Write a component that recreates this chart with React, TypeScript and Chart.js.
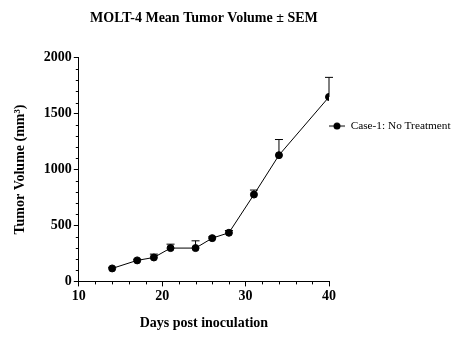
import { useEffect, useRef } from "react";
import { Chart, registerables } from "chart.js";

Chart.register(...registerables);

const days = [14, 17, 19, 21, 24, 26, 28, 31, 34, 40];
const meanVolume = [116, 188, 214, 298, 298, 387, 435, 777, 1129, 1650];
const semVolume = [10, 10, 30, 35, 65, 12, 20, 40, 140, 175];
const seriesLabel = "Case-1: No Treatment";
const chartTitle = "MOLT-4 Mean Tumor Volume ± SEM";
const xTitle = "Days post inoculation";
const yTitle = "Tumor Volume (mm³)";
const xRange = [10, 40];
const yRange = [0, 2000];
const xMajorStep = 10;
const xMinorStep = 2;
const yMajorStep = 500;
const yMinorStep = 100;

const FONT = "'Liberation Serif', 'Times New Roman', serif";

const errorBarsPlugin = {
  id: "errorBars",
  beforeDatasetsDraw(chart: any) {
    const { ctx } = chart;
    const xs = chart.scales.x;
    const ys = chart.scales.y;
    ctx.save();
    ctx.strokeStyle = "#000";
    ctx.lineWidth = 1;
    days.forEach((d, i) => {
      const x = xs.getPixelForValue(d);
      const y0 = ys.getPixelForValue(meanVolume[i]);
      const y1 = ys.getPixelForValue(meanVolume[i] + semVolume[i]);
      ctx.beginPath();
      ctx.moveTo(x, y0);
      ctx.lineTo(x, y1);
      ctx.moveTo(x - 4, y1);
      ctx.lineTo(x + 4, y1);
      ctx.stroke();
    });
    ctx.restore();
  },
};

const minorTicksPlugin = {
  id: "minorTicks",
  afterDraw(chart: any) {
    const { ctx, chartArea } = chart;
    const xs = chart.scales.x;
    const ys = chart.scales.y;
    ctx.save();
    ctx.strokeStyle = "#000";
    ctx.lineWidth = 1;
    ctx.beginPath();
    for (let v = yRange[0] + yMinorStep; v < yRange[1]; v += yMinorStep) {
      if (v % yMajorStep === 0) continue;
      const y = Math.round(ys.getPixelForValue(v)) + 0.5;
      ctx.moveTo(chartArea.left, y);
      ctx.lineTo(chartArea.left - 3, y);
    }
    for (let v = xRange[0] + xMinorStep; v < xRange[1]; v += xMinorStep) {
      if (v % xMajorStep === 0) continue;
      const x = Math.round(xs.getPixelForValue(v)) + 0.5;
      ctx.moveTo(x, chartArea.bottom);
      ctx.lineTo(x, chartArea.bottom + 3);
    }
    ctx.stroke();
    ctx.restore();
  },
};

export default function App() {
  const ref = useRef<HTMLCanvasElement>(null);

  useEffect(() => {
    if (!ref.current) return;
    const marker = document.createElement("canvas");
    marker.width = 16;
    marker.height = 8;
    const mctx = marker.getContext("2d")!;
    mctx.strokeStyle = "#000";
    mctx.lineWidth = 1;
    mctx.beginPath();
    mctx.moveTo(0, 4);
    mctx.lineTo(16, 4);
    mctx.stroke();
    mctx.fillStyle = "#000";
    mctx.beginPath();
    mctx.arc(8, 4, 3.5, 0, Math.PI * 2);
    mctx.fill();

    const chart = new Chart(ref.current, {
      type: "line",
      data: {
        datasets: [
          {
            label: seriesLabel,
            data: days.map((d, i) => ({ x: d, y: meanVolume[i] })),
            borderColor: "#000",
            backgroundColor: "#000",
            borderWidth: 1,
            pointRadius: 3.5,
            pointBackgroundColor: "#000",
            pointBorderColor: "#000",
            tension: 0,
          },
        ],
      },
      options: {
        animation: false,
        responsive: true,
        maintainAspectRatio: false,
        layout: { padding: 0 },
        plugins: {
          tooltip: { enabled: false },
          title: {
            display: true,
            text: chartTitle,
            fullSize: false,
            color: "#000",
            font: { family: FONT, size: 14, weight: "bold" },
            padding: { top: 2, bottom: 31 },
          },
          legend: {
            display: true,
            position: "right",
            align: "start",
            maxWidth: 124,
            title: {
              display: true,
              text: " ",
              padding: { top: 98, bottom: 0 },
              font: { family: FONT, size: 12 },
            },
            labels: {
              usePointStyle: true,
              pointStyle: marker as any,
              pointStyleWidth: 16,
              padding: 0,
              color: "#000",
              font: { family: FONT, size: 11.3 },
            },
          },
        },
        scales: {
          x: {
            type: "linear",
            min: xRange[0],
            max: xRange[1],
            ticks: {
              stepSize: xMajorStep,
              color: "#000",
              padding: 2,
              font: { family: FONT, size: 14, weight: "bold" },
              callback: (v: any) => String(v),
            },
            grid: { drawOnChartArea: false, drawTicks: true, tickLength: 5, color: "#000" },
            border: { color: "#000" },
            title: {
              display: true,
              text: xTitle,
              color: "#000",
              font: { family: FONT, size: 14, weight: "bold" },
              padding: { top: 8, bottom: 13 },
            },
          },
          y: {
            type: "linear",
            min: yRange[0],
            max: yRange[1],
            ticks: {
              stepSize: yMajorStep,
              color: "#000",
              padding: 2,
              font: { family: FONT, size: 14, weight: "bold" },
              callback: (v: any) => String(v),
            },
            grid: { drawOnChartArea: false, drawTicks: true, tickLength: 5, color: "#000" },
            border: { color: "#000" },
            title: {
              display: true,
              text: yTitle,
              color: "#000",
              font: { family: FONT, size: 14, weight: "bold" },
              padding: { top: 4, bottom: 13 },
            },
          },
        },
      },
      plugins: [errorBarsPlugin, minorTicksPlugin],
    });
    return () => chart.destroy();
  }, []);

  return (
    <div style={{ width: 445, height: 337, position: "relative" }}>
      <canvas ref={ref} />
    </div>
  );
}
